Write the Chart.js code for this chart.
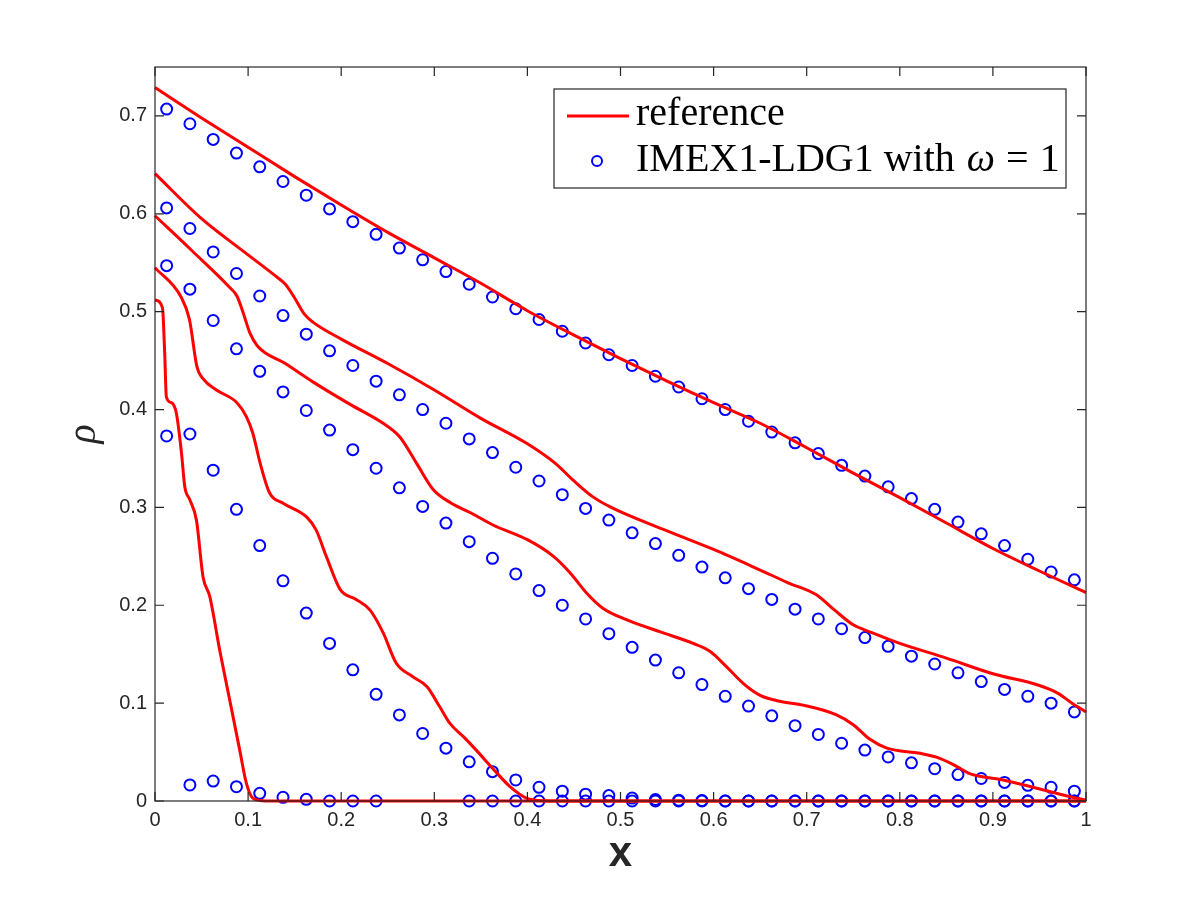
<!DOCTYPE html>
<html>
<head>
<meta charset="utf-8">
<title>rho frente a x</title>
<script src="https://cdn.jsdelivr.net/npm/chart.js@4.4.1/dist/chart.umd.min.js"></script>
<style>
    html, body { margin: 0; padding: 0; background: #fff; }
    #wrap { width: 1200px; height: 900px; }
</style>
</head>
<body>
<div id="wrap"><canvas id="grafica"></canvas></div>
<script>
// Centros de celda donde se dibujan los circulos (IMEX1-LDG1)
const xCeldas = [0.0125, 0.0375, 0.0625, 0.0875, 0.1125, 0.1375, 0.1625, 0.1875, 0.2125, 0.2375,
                 0.2625, 0.2875, 0.3125, 0.3375, 0.3625, 0.3875, 0.4125, 0.4375, 0.4625, 0.4875,
                 0.5125, 0.5375, 0.5625, 0.5875, 0.6125, 0.6375, 0.6625, 0.6875, 0.7125, 0.7375,
                 0.7625, 0.7875, 0.8125, 0.8375, 0.8625, 0.8875, 0.9125, 0.9375, 0.9625, 0.9875];

// Solucion numerica, un array por instante de tiempo
const numA = [0.707, 0.692, 0.676, 0.662, 0.648, 0.633, 0.619, 0.605, 0.592, 0.579,
              0.565, 0.553, 0.541, 0.528, 0.515, 0.503, 0.492, 0.480, 0.468, 0.456,
              0.445, 0.434, 0.423, 0.411, 0.400, 0.388, 0.377, 0.366, 0.355, 0.343,
              0.332, 0.321, 0.309, 0.298, 0.285, 0.273, 0.261, 0.247, 0.234, 0.226];
const numB = [0.606, 0.585, 0.561, 0.539, 0.516, 0.496, 0.477, 0.460, 0.445, 0.429,
              0.415, 0.400, 0.386, 0.370, 0.356, 0.341, 0.327, 0.313, 0.299, 0.287,
              0.274, 0.263, 0.251, 0.239, 0.228, 0.217, 0.206, 0.196, 0.186, 0.176,
              0.167, 0.158, 0.148, 0.140, 0.131, 0.122, 0.114, 0.107, 0.100, 0.091];
const numC = [0.547, 0.523, 0.491, 0.462, 0.439, 0.418, 0.399, 0.379, 0.359, 0.340,
              0.320, 0.301, 0.284, 0.265, 0.248, 0.232, 0.215, 0.200, 0.186, 0.171,
              0.157, 0.144, 0.131, 0.119, 0.107, 0.097, 0.087, 0.077, 0.068, 0.059,
              0.052, 0.045, 0.039, 0.033, 0.027, 0.023, 0.019, 0.016, 0.014, 0.010];
const numD = [0.373, 0.375, 0.338, 0.298, 0.261, 0.225, 0.192, 0.161, 0.134, 0.109,
              0.088, 0.069, 0.054, 0.040, 0.030, 0.0215, 0.014, 0.010, 0.007, 0.0055,
              0.003, 0.0015, 0.0008, 0.0004, 0, 0, 0, 0, 0, 0,
              0, 0, 0, 0, 0, 0, 0, 0, 0, 0];
const numE = [null, 0.0164, 0.0204, 0.0146, 0.0078, 0.0038, 0.0017, 0, 0, 0,
              null, null, null, 0, 0, 0, 0, 0, 0, 0,
              0, 0, 0, 0, 0, 0, 0, 0, 0, 0,
              0, 0, 0, 0, 0, 0, 0, 0, 0, 0];

// Solucion de referencia (linea roja)
const refAx = [0, 0.05, 0.1, 0.15, 0.2, 0.25, 0.3, 0.35, 0.4, 0.45, 0.5, 0.55, 0.6, 0.65, 0.7, 0.75, 0.8, 0.85, 0.9, 0.95, 1];
const refAy = [0.729, 0.698, 0.668, 0.638, 0.609, 0.581, 0.555, 0.529, 0.501, 0.476, 0.452, 0.429, 0.407, 0.386, 0.361, 0.335, 0.310, 0.284, 0.258, 0.235, 0.213];

const refBx = [0, 0.05, 0.1, 0.13, 0.14, 0.15, 0.16, 0.17, 0.2, 0.25, 0.3, 0.35, 0.4, 0.43, 0.45, 0.47, 0.49,
               0.55, 0.6, 0.65, 0.68, 0.71, 0.73, 0.75, 0.77, 0.8, 0.85, 0.9, 0.95, 0.97, 0.985, 1];
const refBy = [0.641, 0.595, 0.558, 0.536, 0.528, 0.514, 0.498, 0.489, 0.472, 0.447, 0.420, 0.391, 0.365, 0.345, 0.327, 0.311, 0.300,
               0.276, 0.257, 0.236, 0.223, 0.211, 0.195, 0.180, 0.172, 0.161, 0.146, 0.130, 0.118, 0.110, 0.100, 0.091];

const refCx = [0, 0.04, 0.08, 0.088, 0.095, 0.102, 0.11, 0.14, 0.17, 0.21, 0.245, 0.263, 0.281, 0.299, 0.317, 0.34, 0.363,
               0.4, 0.428, 0.446, 0.464, 0.481, 0.507, 0.542, 0.578, 0.596, 0.614, 0.632, 0.65, 0.671, 0.696,
               0.732, 0.75, 0.768, 0.786, 0.822, 0.84, 0.858, 0.875, 0.911, 0.947, 0.983, 1];
const refCy = [0.598, 0.562, 0.525, 0.516, 0.498, 0.478, 0.465, 0.447, 0.428, 0.405, 0.386, 0.372, 0.345, 0.318, 0.305, 0.294, 0.282,
               0.267, 0.250, 0.233, 0.212, 0.197, 0.185, 0.173, 0.161, 0.153, 0.137, 0.120, 0.108, 0.102, 0.098,
               0.088, 0.078, 0.063, 0.054, 0.0487, 0.0446, 0.037, 0.028, 0.0215, 0.013, 0.0044, 0.001];

const refDx = [0, 0.028, 0.037, 0.045, 0.052, 0.066, 0.088, 0.098, 0.105, 0.113, 0.123, 0.138, 0.163, 0.173, 0.184, 0.199,
               0.216, 0.231, 0.245, 0.259, 0.277, 0.292, 0.306, 0.317, 0.331, 0.345, 0.363, 0.381, 0.399, 0.417, 0.45, 1];
const refDy = [0.545, 0.515, 0.492, 0.444, 0.431, 0.420, 0.407, 0.393, 0.376, 0.345, 0.315, 0.304, 0.290, 0.277, 0.250, 0.216,
               0.206, 0.195, 0.172, 0.141, 0.127, 0.117, 0.096, 0.079, 0.066, 0.052, 0.033, 0.015, 0.003, 0.0003, 0, 0];

const refEx = [0, 0.008, 0.0104, 0.0122, 0.0176, 0.023, 0.0284, 0.032, 0.0373, 0.0445, 0.0516, 0.0588, 0.0695,
               0.0803, 0.091, 0.0982, 0.105, 0.116, 0.13, 1];
const refEy = [0.512, 0.504, 0.458, 0.413, 0.407, 0.396, 0.356, 0.321, 0.308, 0.287, 0.229, 0.209, 0.154,
               0.103, 0.052, 0.018, 0.003, 0.0003, 0, 0];

// Ejes
const xTicks = [0, 0.1, 0.2, 0.3, 0.4, 0.5, 0.6, 0.7, 0.8, 0.9, 1];
const yTicks = [0, 0.1, 0.2, 0.3, 0.4, 0.5, 0.6, 0.7];
const leyenda = ['reference', 'IMEX1-LDG1 with', '\u03c9', '=', '1'];

const ROJO = '#ff0000';
const AZUL = '#0000ff';
const GRIS = '#262626';

const juntar = (xs, ys) => xs.map((v, i) => ({x: v, y: ys[i]}));
const etiqueta = v => String(Math.round(v * 10) / 10);

const lineaRef = (xs, ys) => ({
    type: 'scatter',
    data: juntar(xs, ys),
    showLine: true,
    borderColor: ROJO,
    borderWidth: 3,
    pointRadius: 0,
    cubicInterpolationMode: 'monotone',
    clip: false
});

const circulos = (ys) => ({
    type: 'scatter',
    data: juntar(xCeldas, ys).filter(p => p.y !== null),
    showLine: false,
    pointStyle: 'circle',
    pointRadius: 5.5,
    pointBorderWidth: 2,
    pointBorderColor: AZUL,
    pointBackgroundColor: 'rgba(0,0,0,0)',
    clip: false
});

// Caja estilo MATLAB con marcas hacia dentro
const cajaPlugin = {
    id: 'caja',
    afterDatasetsDraw(chart) {
        const {ctx, chartArea: a, scales: {x, y}} = chart;
        const largo = 9;
        ctx.save();
        ctx.strokeStyle = GRIS;
        ctx.lineWidth = 1.2;
        ctx.strokeRect(a.left, a.top, a.right - a.left, a.bottom - a.top);
        ctx.beginPath();
        xTicks.forEach(v => {
            const px = x.getPixelForValue(v);
            ctx.moveTo(px, a.bottom); ctx.lineTo(px, a.bottom - largo);
            ctx.moveTo(px, a.top); ctx.lineTo(px, a.top + largo);
        });
        yTicks.forEach(v => {
            const py = y.getPixelForValue(v);
            ctx.moveTo(a.left, py); ctx.lineTo(a.left + largo, py);
            ctx.moveTo(a.right, py); ctx.lineTo(a.right - largo, py);
        });
        ctx.stroke();
        ctx.restore();
    }
};

// Leyenda dentro del area, arriba a la derecha
const leyendaPlugin = {
    id: 'leyendaCaja',
    afterDraw(chart) {
        const {ctx, chartArea: a} = chart;
        const w = 512, h = 99;
        const left = a.right - 20 - w;
        const top = a.top + 22;
        ctx.save();
        ctx.fillStyle = '#fff';
        ctx.fillRect(left, top, w, h);
        ctx.strokeStyle = GRIS;
        ctx.lineWidth = 1.2;
        ctx.strokeRect(left, top, w, h);

        // muestra de la linea
        ctx.strokeStyle = ROJO;
        ctx.lineWidth = 3;
        ctx.beginPath();
        ctx.moveTo(left + 13, top + 27);
        ctx.lineTo(left + 75, top + 27);
        ctx.stroke();

        // muestra del circulo
        ctx.strokeStyle = AZUL;
        ctx.lineWidth = 2;
        ctx.beginPath();
        ctx.arc(left + 43, top + 72, 5, 0, Math.PI * 2);
        ctx.stroke();

        ctx.fillStyle = '#000';
        ctx.textBaseline = 'alphabetic';
        ctx.textAlign = 'left';
        const normal = '40px "Liberation Serif"';
        const cursiva = 'italic 40px "Liberation Serif"';
        const y1 = top + 36, y2 = top + 82;
        let tx = left + 82;
        ctx.font = normal;
        ctx.fillText(leyenda[0], tx, y1);
        ctx.fillText(leyenda[1], tx, y2);
        tx += ctx.measureText(leyenda[1]).width + 12;
        ctx.font = cursiva;
        ctx.fillText(leyenda[2], tx, y2);
        tx += ctx.measureText(leyenda[2]).width + 11;
        ctx.font = normal;
        ctx.fillText(leyenda[3], tx, y2);
        tx += ctx.measureText(leyenda[3]).width + 11;
        ctx.fillText(leyenda[4], tx, y2);
        ctx.restore();
    }
};

const fuenteEje = { family: '"Liberation Sans", Arial, sans-serif', size: 20 };

new Chart(document.getElementById('grafica'), {
    type: 'scatter',
    data: {
        datasets: [
            lineaRef(refAx, refAy),
            lineaRef(refBx, refBy),
            lineaRef(refCx, refCy),
            lineaRef(refDx, refDy),
            lineaRef(refEx, refEy),
            circulos(numA),
            circulos(numB),
            circulos(numC),
            circulos(numD),
            circulos(numE)
        ]
    },
    options: {
        responsive: true,
        maintainAspectRatio: false,
        animation: false,
        events: [],
        layout: { padding: { left: 0, right: 114, top: 67, bottom: 0 } },
        plugins: { legend: { display: false }, tooltip: { enabled: false } },
        scales: {
            x: {
                type: 'linear',
                min: 0, max: 1,
                afterFit: s => { s.height = 99; },
                afterBuildTicks: s => { s.ticks = xTicks.map(v => ({value: v})); },
                grid: { display: false, drawTicks: false },
                border: { display: false },
                ticks: { color: GRIS, padding: 7, font: fuenteEje, callback: etiqueta },
                title: {
                    display: true, text: 'x', color: GRIS,
                    padding: { top: 0, bottom: 20 },
                    font: { family: '"Liberation Sans", Arial, sans-serif', size: 42, weight: 'bold' }
                }
            },
            y: {
                type: 'linear',
                min: 0, max: 0.75,
                afterFit: s => { s.width = 155; },
                afterBuildTicks: s => { s.ticks = yTicks.map(v => ({value: v})); },
                grid: { display: false, drawTicks: false },
                border: { display: false },
                ticks: { color: GRIS, padding: 8, font: fuenteEje, callback: etiqueta },
                title: {
                    display: true, text: '\u03c1', color: GRIS,
                    padding: { top: 60, bottom: 0 },
                    font: { family: '"Liberation Serif", serif', size: 40, style: 'italic' }
                }
            }
        }
    },
    plugins: [cajaPlugin, leyendaPlugin]
});
</script>
</body>
</html>
